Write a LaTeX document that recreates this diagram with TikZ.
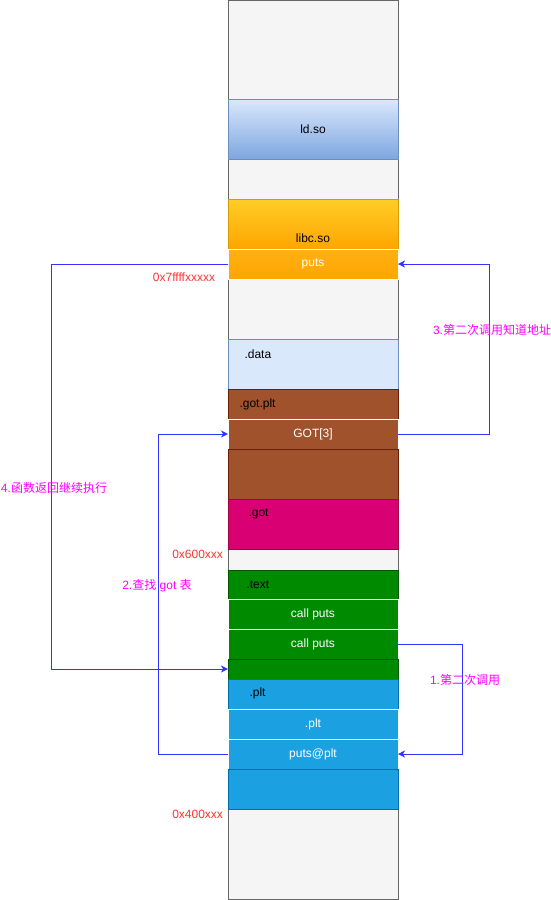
\documentclass[tikz,border=0pt]{standalone}
\usepackage{fontspec}
\setmainfont{Liberation Sans}
\newfontfamily\cjk{Noto Sans CJK SC}
\usetikzlibrary{arrows.meta, positioning}

\definecolor{memgray}{HTML}{F5F5F5}
\definecolor{memline}{HTML}{666666}
\definecolor{ldtop}{HTML}{DAE8FC}
\definecolor{ldbot}{HTML}{7EA6E0}
\definecolor{ldline}{HTML}{6C8EBF}
\definecolor{libctop}{HTML}{FFCD28}
\definecolor{libcbot}{HTML}{FFA500}
\definecolor{libcline}{HTML}{D79B00}
\definecolor{putstop}{HTML}{FFB014}
\definecolor{gotbrown}{HTML}{A0522D}
\definecolor{gotline}{HTML}{6D1F00}
\definecolor{gotpink}{HTML}{D80073}
\definecolor{gotpinkline}{HTML}{A50040}
\definecolor{textgreen}{HTML}{008A00}
\definecolor{textline}{HTML}{005700}
\definecolor{pltblue}{HTML}{1BA1E2}
\definecolor{pltline}{HTML}{006EAF}
\definecolor{addrred}{HTML}{FF3333}
\definecolor{notemag}{HTML}{FF00FF}
\definecolor{flowblue}{HTML}{3333FF}

\begin{document}
\begin{tikzpicture}[
  x=1pt, y=-1pt,
  font=\fontsize{12}{14}\selectfont,
  every node/.style={inner sep=0pt, outer sep=0pt},
  seg/.style={rectangle, draw, line width=1pt, minimum width=170pt},
  inseg/.style={rectangle, draw=white, line width=1pt, minimum width=170pt, minimum height=30pt, text=white},
  hd/.style={anchor=west, yshift=-15pt},
  brown/.style={seg, fill=gotbrown, draw=gotline},
  green/.style={seg, fill=textgreen, draw=textline},
  blue/.style={seg, fill=pltblue, draw=pltline},
  addr/.style={text=addrred, anchor=east},
  note/.style={text=notemag},
  flow/.style={draw=flowblue, line width=1pt, -{Stealth[length=7pt, width=7pt, inset=2pt]}}
]
\useasboundingbox (0,0) rectangle (551,900);
\node[seg, fill=memgray, draw=memline, minimum height=899pt] (mem) at (313,449.5) {};

\node[seg, draw=ldline, top color=ldtop, bottom color=ldbot, minimum height=60pt] (ld) at (313,129) {ld.so};
\node[seg, draw=libcline, top color=libctop, bottom color=libcbot, minimum height=50pt,
  below=40pt of ld, label={[yshift=-14pt]center:libc.so}] (libc) {};
\node[inseg, top color=putstop, bottom color=libcbot, below=0pt of libc] (puts) {puts};

\node[seg, fill=ldtop, draw=ldline, minimum height=50pt, below=60pt of puts,
  label={[hd, xshift=16.5pt]north west:.data}] (data) {};
\node[brown, minimum height=30pt, below=0pt of data,
  label={[hd, xshift=11.5pt]north west:.got.plt}] (gotplt) {};
\node[inseg, fill=gotbrown, below=0pt of gotplt] (got3) {GOT[3]};
\node[brown, minimum height=50pt, below=0pt of got3] (gotrest) {};
\node[seg, fill=gotpink, draw=gotpinkline, minimum height=50pt, below=0pt of gotrest,
  label={[hd, xshift=20.5pt]north west:.got}] (got) {};

\node[green, minimum height=29pt, below=21pt of got,
  label={[hd, xshift=18.5pt, yshift=0.5pt]north west:.text}] (text) {};
\node[inseg, fill=textgreen, below=0pt of text] (call1) {call puts};
\node[inseg, fill=textgreen, below=0pt of call1] (call2) {call puts};
\node[green, minimum height=20pt, below=0pt of call2] (textrest) {};

\node[blue, minimum height=30pt, below=0pt of textrest,
  label={[hd, xshift=21.5pt, yshift=1pt]north west:.plt}] (plt) {};
\node[inseg, fill=pltblue, below=0pt of plt] (plt2) {.plt};
\node[inseg, fill=pltblue, below=0pt of plt2] (putsplt) {puts@plt};
\node[blue, minimum height=40pt, below=0pt of putsplt] (pltrest) {};

\node[addr] (a7ff) at (215,277) {0x7ffffxxxxx};
\node[addr] (a600) at (223,554) {0x600xxx};
\node[addr] (a400) at (223,814) {0x400xxx};

\draw[flow] (call2.east) -- ++(64,0) |- (putsplt.east);
\draw[flow] (putsplt.west) -- ++(-70,0) |- (got3.west);
\draw[flow] (got3.east) -- ++(91,0) |- (puts.east);
\draw[flow] (puts.west) -- ++(-177,0) |- (textrest.west);

\node[note] (n1) at (465,680) {1.{\cjk 第二次调用}};
\node[note] (n2) at (157,586) {2.{\cjk 查找} got {\cjk 表}};
\node[note] (n3) at (492,330) {3.{\cjk 第二次调用知道地址}};
\node[note] (n4) at (54,488) {4.{\cjk 函数返回继续执行}};
\end{tikzpicture}
\end{document}
